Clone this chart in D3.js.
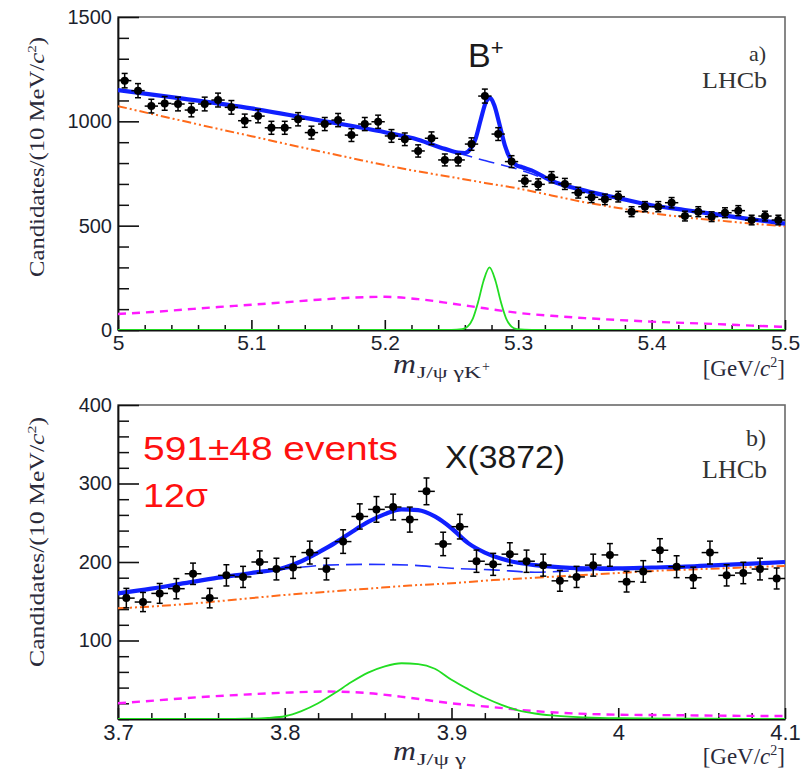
<!DOCTYPE html>
<html><head><meta charset="utf-8">
<script src="https://cdn.jsdelivr.net/npm/d3@7"></script>
<style>body{margin:0;background:#fff}</style>
</head><body>
<svg id="c" width="804" height="773" xmlns="http://www.w3.org/2000/svg"></svg>
<script>
// ---------- Panel a) : m(J/psi gamma K+) ----------
const topMass = [5.005,5.015,5.025,5.035,5.045,5.055,5.065,5.075,5.085,5.095,
  5.105,5.115,5.125,5.135,5.145,5.155,5.165,5.175,5.185,5.195,
  5.205,5.215,5.225,5.235,5.245,5.255,5.265,5.275,5.285,5.295,
  5.305,5.315,5.325,5.335,5.345,5.355,5.365,5.375,5.385,5.395,
  5.405,5.415,5.425,5.435,5.445,5.455,5.465,5.475,5.485,5.495];
const topCounts = [1195,1147,1073,1086,1083,1054,1083,1102,1067,1003,
  1025,969,969,1010,946,987,1006,934,987,998,
  930,914,858,919,815,815,891,1121,939,807,
  714,698,732,700,658,636,626,639,567,591,
  591,610,546,567,543,562,572,527,546,527];

const topCurveX = [5.000,5.025,5.050,5.075,5.100,5.125,5.150,5.175,5.200,5.225,5.250,
  5.275,5.300,5.325,5.350,5.375,5.400,5.425,5.450,5.475,5.500];
const topComb = [1073,1036,1000,964,929,893,858,824,790,760,733,705,678,645,612,585,560,540,525,510,497];
const topPartReco = [77,86,98,110,121,133,145,155,159,148,127,104,82,68,57,48,40,34,28,21,15];
const topBkg = [1150,1128,1108,1085,1062,1035,1006,977,948,912,858,812,770,715,668,632,598,575,553,530,510];

const topTotalX = [5.000,5.050,5.100,5.150,5.200,5.225,5.245,5.255,5.260,5.264,5.268,5.272,5.276,5.279,
  5.282,5.286,5.290,5.294,5.298,5.303,5.310,5.325,5.350,5.375,5.400,5.425,5.450,5.475,5.500];
const topTotal = [1150,1108,1062,1006,948,912,868,850,848,866,915,1010,1095,1112,
  1078,985,885,822,793,780,765,715,668,632,598,575,553,530,510];

const topSigX = [5.000,5.250,5.258,5.262,5.266,5.270,5.274,5.2785,5.283,5.287,5.291,5.295,5.299,5.310,5.500];
const topSig = [0,0,4,16,55,135,235,300,235,135,55,16,4,0,0];

const topXTicks = [5.0,5.1,5.2,5.3,5.4,5.5];
const topXTickLabels = ["5","5.1","5.2","5.3","5.4","5.5"];
const topYTicks = [0,500,1000,1500];
const topYTickLabels = ["0","500","1000","1500"];

// ---------- Panel b) : m(J/psi gamma) ----------
const botMass = [3.705,3.715,3.725,3.735,3.745,3.755,3.765,3.775,3.785,3.795,
  3.805,3.815,3.825,3.835,3.845,3.855,3.865,3.875,3.885,3.895,
  3.905,3.915,3.925,3.935,3.945,3.955,3.965,3.975,3.985,3.995,
  4.005,4.015,4.025,4.035,4.045,4.055,4.065,4.075,4.085,4.095];
const botCounts = [154,149,160,166,185,154,183,181,200,191,
  193,212,191,226,258,267,270,254,290,223,
  245,201,197,210,201,196,176,181,196,209,
  175,188,215,194,180,212,183,186,191,179];

const botCurveX = [3.700,3.725,3.750,3.775,3.800,3.825,3.850,3.875,3.900,3.925,3.950,3.975,4.000,4.025,4.050,4.075,4.100];
const botComb = [141,144,148,153,158,162,166,170,173,177,180,183,186,189,191,193,195];
const botPartReco = [20,24,28,31,33.5,35,33,27,20,15,10,7,5.5,5,4.5,4,3.8];
const botBkg = [160,168,176,184,191,196,197,196,192,190,187,189,190,193,195,197,200];

const botTotalX = [3.700,3.720,3.740,3.760,3.780,3.800,3.810,3.820,3.830,3.840,3.850,3.860,3.870,3.880,
  3.890,3.900,3.910,3.920,3.930,3.940,3.950,3.960,3.980,4.000,4.020,4.040,4.060,4.080,4.100];
const botTotal = [160,166,173,180,186,193,201,212,224,238,251,261,267,266,
  258,243,224,212,204,199,196,194,192,192,193,194,196,198,200];

const botSigX = [3.700,3.770,3.790,3.800,3.810,3.820,3.830,3.840,3.850,3.860,3.870,3.880,3.890,3.900,
  3.910,3.920,3.930,3.940,3.950,3.960,3.980,4.000,4.050,4.100];
const botSig = [0,0,1.5,3.5,10,20,33,47,59,67,71,70,64,50,38,27,18,11,7,4.5,2,1,0.3,0];

const botXTicks = [3.7,3.8,3.9,4.0,4.1];
const botXTickLabels = ["3.7","3.8","3.9","4","4.1"];
const botYTicks = [100,200,300,400];
const botYTickLabels = ["100","200","300","400"];

// ---------- drawing ----------
const svg = d3.select("#c");
const SANS = "'Liberation Sans', Arial, sans-serif";
const SERIF = "'Liberation Serif', 'Times New Roman', serif";
const TICKCOL = "#1c1f2e";

function drawPanel(o) {
  const x = d3.scaleLinear().domain(o.xDomain).range([o.left, o.right]);
  const y = d3.scaleLinear().domain(o.yDomain).range([o.bottom, o.top]);
  const g = svg.append("g");
  const clipId = "clip" + o.id;
  svg.append("clipPath").attr("id", clipId).append("rect")
    .attr("x", o.left).attr("y", o.top).attr("width", o.right - o.left).attr("height", o.bottom - o.top);

  g.append("rect").attr("x", o.left).attr("y", o.top)
    .attr("width", o.right - o.left).attr("height", o.bottom - o.top)
    .attr("fill", "none").attr("stroke", "#6a6a6a").attr("stroke-width", 1.6);

  const xMinor = x.ticks(o.xMinorCount).filter(v => !o.xTicks.some(t => Math.abs(t - v) < 1e-9));
  const yMinor = y.ticks(o.yMinorCount).filter(v => !o.yTicks.some(t => Math.abs(t - v) < 1e-9));
  g.append("g").attr("transform", `translate(0,${o.bottom})`)
    .call(d3.axisBottom(x).tickValues(xMinor).tickSize(-o.xMinorLen).tickFormat(""))
    .call(s => s.select(".domain").remove())
    .call(s => s.selectAll("line").attr("stroke", "#111").attr("stroke-width", 1.5));
  g.append("g").attr("transform", `translate(${o.left},0)`)
    .call(d3.axisLeft(y).tickValues(yMinor).tickSize(-o.yMinorLen).tickFormat(""))
    .call(s => s.select(".domain").remove())
    .call(s => s.selectAll("line").attr("stroke", "#111").attr("stroke-width", 1.5));

  const xa = g.append("g").attr("transform", `translate(0,${o.bottom})`)
    .call(d3.axisBottom(x).tickValues(o.xTicks).tickSize(-o.xMajorLen).tickPadding(o.xPad)
      .tickFormat((d, i) => o.xTickLabels[i]).tickSizeOuter(0));
  xa.select(".domain").attr("stroke", "#111").attr("stroke-width", 1.8);
  xa.selectAll("line").attr("stroke", "#111").attr("stroke-width", 1.6);
  xa.selectAll("text").attr("font-family", SANS).attr("font-size", o.xFont).attr("fill", TICKCOL);

  const ya = g.append("g").attr("transform", `translate(${o.left},0)`)
    .call(d3.axisLeft(y).tickValues(o.yTicks).tickSize(-o.yMajorLen).tickPadding(6)
      .tickFormat((d, i) => o.yTickLabels[i]).tickSizeOuter(0));
  ya.select(".domain").attr("stroke", "#111").attr("stroke-width", 1.8);
  ya.selectAll("line").attr("stroke", "#111").attr("stroke-width", 1.6);
  ya.selectAll("text").attr("font-family", SANS).attr("font-size", 20).attr("fill", TICKCOL);

  const cg = g.append("g").attr("clip-path", `url(#${clipId})`);
  const line = (xs, vs) => d3.line().curve(d3.curveMonotoneX)
    .x((d, i) => x(xs[i])).y(d => y(d))(vs);

  cg.append("path").attr("d", line(o.curveX, o.partReco)).attr("fill", "none")
    .attr("stroke", "#ff1aff").attr("stroke-width", 2.4).attr("stroke-dasharray", "8,6");
  cg.append("path").attr("d", line(o.curveX, o.comb)).attr("fill", "none")
    .attr("stroke", "#ff6a1a").attr("stroke-width", 2).attr("stroke-dasharray", "9,3,2,3,2,3");
  cg.append("path").attr("d", line(o.sigX, o.sig)).attr("fill", "none")
    .attr("stroke", "#22dd22").attr("stroke-width", 1.8);
  cg.append("path").attr("d", line(o.curveX, o.bkg)).attr("fill", "none")
    .attr("stroke", "#2030ff").attr("stroke-width", 1.6).attr("stroke-dasharray", "16,7");
  cg.append("path").attr("d", line(o.totalX, o.total)).attr("fill", "none")
    .attr("stroke", "#1020ff").attr("stroke-width", 4.2).attr("stroke-linejoin", "round");

  const pts = g.append("g").attr("clip-path", `url(#${clipId})`);
  const half = o.binHalf;
  o.mass.forEach((m, i) => {
    const c = o.counts[i], e = Math.sqrt(c);
    const px = x(m), py = y(c), y1 = y(c + e), y2 = y(c - e);
    pts.append("line").attr("x1", x(m - half)).attr("x2", x(m + half)).attr("y1", py).attr("y2", py)
      .attr("stroke", "#000").attr("stroke-width", 1.5);
    pts.append("line").attr("x1", px).attr("x2", px).attr("y1", y1).attr("y2", y2)
      .attr("stroke", "#000").attr("stroke-width", 1.5);
    [y1, y2].forEach(yy => pts.append("line").attr("x1", px - 3).attr("x2", px + 3)
      .attr("y1", yy).attr("y2", yy).attr("stroke", "#000").attr("stroke-width", 1.5));
    pts.append("circle").attr("cx", px).attr("cy", py).attr("r", 4).attr("fill", "#000");
  });
  return {x, y};
}

drawPanel({
  id: "a", left: 118, right: 785, top: 17, bottom: 330,
  xDomain: [5.0, 5.5], yDomain: [0, 1500],
  xTicks: topXTicks, xTickLabels: topXTickLabels, yTicks: topYTicks, yTickLabels: topYTickLabels,
  xMinorCount: 25, yMinorCount: 15, xMajorLen: 10, xMinorLen: 5, yMajorLen: 21, yMinorLen: 11,
  xPad: 5, xFont: 21,
  mass: topMass, counts: topCounts, binHalf: 0.005,
  curveX: topCurveX, comb: topComb, partReco: topPartReco, bkg: topBkg,
  totalX: topTotalX, total: topTotal, sigX: topSigX, sig: topSig
});
drawPanel({
  id: "b", left: 118, right: 785, top: 405, bottom: 719,
  xDomain: [3.7, 4.1], yDomain: [0, 400],
  xTicks: botXTicks, xTickLabels: botXTickLabels, yTicks: botYTicks, yTickLabels: botYTickLabels,
  xMinorCount: 20, yMinorCount: 20, xMajorLen: 11, xMinorLen: 6, yMajorLen: 21, yMinorLen: 11,
  xPad: 5, xFont: 22,
  mass: botMass, counts: botCounts, binHalf: 0.005,
  curveX: botCurveX, comb: botComb, partReco: botPartReco, bkg: botBkg,
  totalX: botTotalX, total: botTotal, sigX: botSigX, sig: botSig
});

// ---------- axis titles ----------
function yTitle(xb, yEnd, len) {
  const t = svg.append("text").attr("transform", `translate(${xb},${yEnd}) rotate(-90)`)
    .attr("text-anchor", "end").attr("font-family", SERIF).attr("font-size", 21).attr("fill", "#2a2a3a")
    .attr("textLength", len).attr("lengthAdjust", "spacingAndGlyphs");
  t.append("tspan").text("Candidates/(10 MeV/");
  t.append("tspan").attr("font-style", "italic").text("c");
  t.append("tspan").attr("font-size", 13).attr("dy", -8).text("2");
  t.append("tspan").attr("dy", 8).text(")");
}
yTitle(44, 37, 240);
yTitle(44, 417, 250);

function xTitle(sub, subLen, sup, yb) {
  svg.append("text").attr("x", 393).attr("y", yb).attr("font-family", SERIF).attr("font-style", "italic")
    .attr("font-size", 27).attr("fill", "#2a2a3a").attr("textLength", 23).attr("lengthAdjust", "spacingAndGlyphs")
    .text("m");
  svg.append("text").attr("x", 417).attr("y", yb + 5).attr("font-family", SERIF)
    .attr("font-size", 17).attr("fill", "#2a2a3a").attr("textLength", subLen)
    .attr("lengthAdjust", "spacingAndGlyphs").text(sub);
  if (sup) svg.append("text").attr("x", 417 + subLen + 1).attr("y", yb - 2).attr("font-family", SERIF)
    .attr("font-size", 14).attr("fill", "#2a2a3a").text(sup);
}
xTitle("J/ψ γK", 64, "+", 373);
xTitle("J/ψ γ", 49, null, 760);

function units(yb) {
  const t = svg.append("text").attr("x", 785).attr("y", yb).attr("text-anchor", "end")
    .attr("font-family", SERIF).attr("font-size", 23).attr("fill", "#2a2a3a");
  t.append("tspan").text("[GeV/");
  t.append("tspan").attr("font-style", "italic").text("c");
  t.append("tspan").attr("font-size", 14).attr("dy", -9).text("2");
  t.append("tspan").attr("dy", 9).text("]");
}
units(376);
units(764);

// ---------- annotations ----------
const bp = svg.append("text").attr("x", 468).attr("y", 67).attr("font-family", SANS)
  .attr("font-size", 34).attr("fill", "#1a1a1a");
bp.append("tspan").text("B");
bp.append("tspan").attr("font-size", 22).attr("dy", -12).text("+");

svg.append("text").attr("x", 766).attr("y", 61).attr("text-anchor", "end").attr("font-family", SERIF)
  .attr("font-size", 22).attr("fill", "#333").text("a)");
svg.append("text").attr("x", 767).attr("y", 88).attr("text-anchor", "end").attr("font-family", SERIF)
  .attr("font-size", 23).attr("fill", "#333").attr("textLength", 65).attr("lengthAdjust", "spacingAndGlyphs").text("LHCb");

svg.append("text").attr("x", 766).attr("y", 446).attr("text-anchor", "end").attr("font-family", SERIF)
  .attr("font-size", 24).attr("fill", "#333").text("b)");
svg.append("text").attr("x", 767).attr("y", 478).attr("text-anchor", "end").attr("font-family", SERIF)
  .attr("font-size", 25).attr("fill", "#333").attr("textLength", 65).attr("lengthAdjust", "spacingAndGlyphs").text("LHCb");

svg.append("text").attr("x", 445).attr("y", 468).attr("font-family", SANS).attr("font-size", 32)
  .attr("fill", "#1a1a1a").attr("textLength", 120).attr("lengthAdjust", "spacingAndGlyphs").text("X(3872)");

svg.append("text").attr("x", 143).attr("y", 460).attr("font-family", SANS).attr("font-size", 34)
  .attr("fill", "#ff1010").attr("textLength", 255).attr("lengthAdjust", "spacingAndGlyphs").text("591±48 events");
svg.append("text").attr("x", 143).attr("y", 507).attr("font-family", SANS).attr("font-size", 34)
  .attr("fill", "#ff1010").attr("textLength", 65).attr("lengthAdjust", "spacingAndGlyphs").text("12σ");
</script>
</body></html>
